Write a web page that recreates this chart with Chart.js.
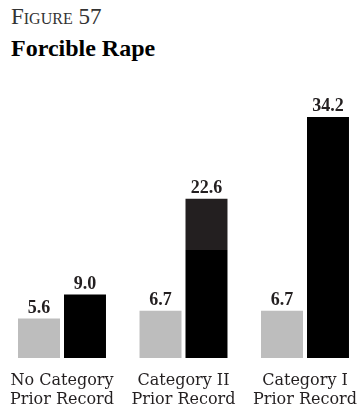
<!DOCTYPE html>
<html lang="en">
<head>
    <meta charset="UTF-8">
    <title>Figure 57 - Forcible Rape</title>
    <script src="https://cdn.jsdelivr.net/npm/chart.js"></script>
    <style>
        body { margin: 0; background: #fff; }
        .wrap { position: relative; width: 357px; height: 411px; }
        .fig-no {
            position: absolute; left: 11px; top: 4px;
            font: 23px "Liberation Serif", serif; font-variant: small-caps;
            color: #333;
        }
        .fig-title {
            position: absolute; left: 11px; top: 35px;
            font: bold 24px "Liberation Serif", serif;
            color: #000;
        }
        canvas { position: absolute; left: 0; top: 0; }
    </style>
</head>
<body>
<div class="wrap">
    <div class="fig-no">Figure 57</div>
    <div class="fig-title">Forcible Rape</div>
    <canvas id="myChart" width="357" height="411"></canvas>
</div>
<script>
    // prior record groups
    const categories = [
        ['No Category', 'Prior Record'],
        ['Category II', 'Prior Record'],
        ['Category I', 'Prior Record']
    ];
    const lightSeries = [5.6, 6.7, 6.7];
    const darkSeries = [9.0, 22.6, 34.2];

    // draws the value above each bar
    const valueLabels = {
        id: 'valueLabels',
        afterDatasetsDraw(chart) {
            const ctx = chart.ctx;
            ctx.save();
            ctx.font = 'bold 18px "Liberation Serif", serif';
            ctx.fillStyle = '#231f20';
            ctx.textAlign = 'center';
            ctx.textBaseline = 'alphabetic';
            chart.data.datasets.forEach((ds, i) => {
                chart.getDatasetMeta(i).data.forEach((bar, j) => {
                    ctx.fillText(ds.data[j].toFixed(1), bar.x, bar.y - 6);
                });
            });
            ctx.restore();
        }
    };

    // middle dark bar prints with a greyish top third
    function darkColor(c) {
        if (c.dataIndex !== 1 || !c.chart.scales.y) return '#000';
        const y = c.chart.scales.y;
        const top = y.getPixelForValue(c.raw);
        const base = y.getPixelForValue(0);
        const g = c.chart.ctx.createLinearGradient(0, top, 0, base);
        g.addColorStop(0, '#231f20');
        g.addColorStop(0.32, '#231f20');
        g.addColorStop(0.32, '#000');
        g.addColorStop(1, '#000');
        return g;
    }

    const data = {
        labels: categories,
        datasets: [{
            data: lightSeries,
            backgroundColor: '#bdbdbd',
            clip: false
        }, {
            data: darkSeries,
            backgroundColor: darkColor,
            clip: false
        }]
    };

    const config = {
        type: 'bar',
        data: data,
        options: {
            responsive: false,
            animation: false,
            categoryPercentage: 0.757,
            barPercentage: 0.913,
            layout: { padding: { top: 76, left: 62, right: 52, bottom: 0 } },
            plugins: { legend: { display: false }, tooltip: { enabled: false } },
            scales: {
                x: {
                    offset: false,
                    grid: { display: false, drawTicks: false },
                    border: { display: false },
                    ticks: {
                        padding: 14,
                        color: '#231f20',
                        maxRotation: 0,
                        autoSkip: false,
                        font: { family: '"DejaVu Serif", serif', size: 16, lineHeight: 1.15 }
                    },
                    // keep the edge labels from pushing the plot inwards
                    afterFit(scale) {
                        scale.paddingLeft = 0;
                        scale.paddingRight = 0;
                        scale.height = 53;
                    }
                },
                y: {
                    display: false,
                    min: 0,
                    max: 40
                }
            }
        },
        plugins: [valueLabels]
    };

    const myChart = new Chart(document.getElementById('myChart'), config);
</script>
</body>
</html>
